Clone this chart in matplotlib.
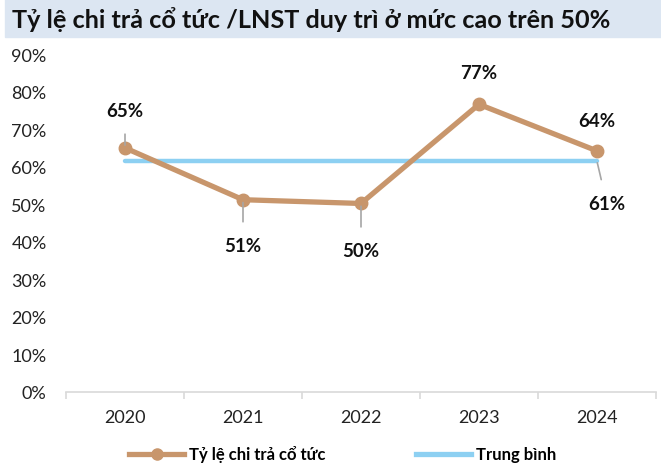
import numpy as np
import matplotlib.pyplot as plt
from matplotlib.lines import Line2D

plt.rcParams['font.family'] = ['Lato', 'DejaVu Sans']

years = ["2020", "2021", "2022", "2023", "2024"]
payout = [0.65, 0.512, 0.502, 0.766, 0.642]
payout_labels = ["65%", "51%", "50%", "77%", "64%"]
average = 0.614
average_label = "61%"

line_color = "#C8966C"
avg_color = "#8DD0F2"
leader_color = "#A6A6A6"

fig = plt.figure(figsize=(6.61, 4.64), dpi=100)
ax = fig.add_axes([66 / 661, 1 - 393 / 464, 590 / 661, (393 - 55) / 464])

# title band
fig.patches.append(plt.Rectangle((5 / 661, 1 - 38 / 464), 1, 38 / 464,
                                 transform=fig.transFigure, color="#DCE6F2", zorder=0))
fig.text(12 / 661, 1 - 20 / 464, "Tỷ lệ chi trả cổ tức /LNST duy trì ở mức cao trên 50%",
         fontsize=18.2, fontweight="bold", va="center", ha="left", color="#111111")

x = np.arange(len(years))
ax.plot(x, [average] * len(x), color=avg_color, lw=3.2, solid_capstyle="round", zorder=2)
ax.plot(x, payout, color=line_color, lw=3.8, marker="o", ms=9, zorder=3)

ax.set_xlim(-0.5, len(years) - 0.5)
ax.set_ylim(0, 0.9)
ax.set_yticks(np.arange(0, 0.91, 0.1))
ax.set_yticklabels([f"{int(round(v * 100))}%" for v in np.arange(0, 0.91, 0.1)])
ax.set_xticks(x)
ax.set_xticklabels(years)
ax.set_xticks(np.arange(-0.5, len(years), 1), minor=True)

for s in ["top", "right", "left"]:
    ax.spines[s].set_visible(False)
ax.spines["bottom"].set_color("#D9D9D9")
ax.spines["bottom"].set_linewidth(1.2)
ax.tick_params(axis="y", length=0, labelsize=13, colors="#222222", pad=14)
ax.tick_params(axis="x", which="major", length=0, labelsize=13, colors="#222222", pad=12)
ax.tick_params(axis="x", which="minor", length=5, color="#D9D9D9", width=1.2)

# data labels with leader lines (offsets in points)
offsets = [(0, 27), (0, -33), (0, -34), (0, 23), (0, 22)]
leaders = [True, True, True, False, False]
for i, (v, lab) in enumerate(zip(payout, payout_labels)):
    dx, dy = offsets[i]
    ax.annotate(lab, (x[i], v), xytext=(dx, dy), textcoords="offset points",
                ha="center", va="center", fontsize=13.5, fontweight="bold", color="#111111",
                arrowprops=dict(arrowstyle="-", color=leader_color, lw=1.2,
                                shrinkA=9, shrinkB=2) if leaders[i] else None,
                zorder=5)
ax.annotate(average_label, (x[-1], average), xytext=(7, -30), textcoords="offset points",
            ha="center", va="center", fontsize=13.5, fontweight="bold", color="#111111",
            arrowprops=dict(arrowstyle="-", color=leader_color, lw=1.2, shrinkA=9, shrinkB=1),
            zorder=5)

handles = [Line2D([], [], color=line_color, lw=3.8, marker="o", ms=8),
           Line2D([], [], color=avg_color, lw=3.8)]
leg = fig.legend(handles, ["Tỷ lệ chi trả cổ tức", "Trung bình"], loc="center",
                 bbox_to_anchor=(0.518, 1 - 455 / 464), ncol=2, frameon=False,
                 handlelength=3.3, columnspacing=5.4, handletextpad=0.3,
                 borderaxespad=0, borderpad=0,
                 prop=dict(weight="bold", size=12))

fig.savefig("out.png", dpi=100)
